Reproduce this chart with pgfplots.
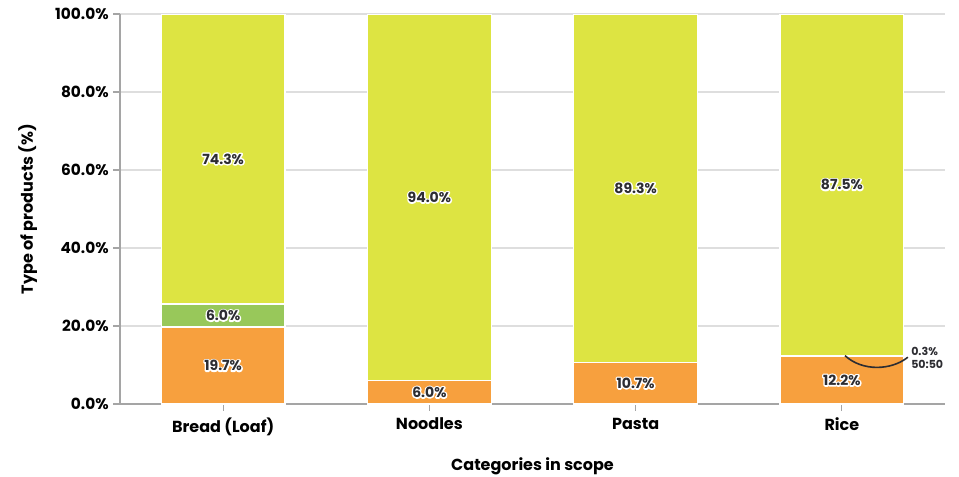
\documentclass[border=0pt]{standalone}
\usepackage{pgfplots}
\pgfplotsset{compat=1.18}
\usepackage{pgfplotstable}
\usepackage{fontspec}
\setmainfont{Poppins}

\definecolor{cOrange}{RGB}{247,160,62}
\definecolor{cGreen}{RGB}{152,200,90}
\definecolor{cYellow}{RGB}{221,228,66}
\definecolor{cText}{RGB}{45,45,50}
\definecolor{cGrid}{RGB}{222,222,222}
\definecolor{cAxis}{RGB}{165,165,165}

% white outline behind a value label: a stroked copy, then the filled text
\newcommand\halo[1]{\leavevmode\rlap{\special{pdf:code q 1 Tr 2.2 w 1 J 1 j 1 1 1 RG}#1\special{pdf:code Q}}#1}

% Shares of product types per category (%)
\pgfplotstableread{
x  low   mid  high
0  19.7  6.0  74.3
1  6.0   0.0  94.0
2  10.7  0.0  89.3
3  12.2  0.3  87.5
}\shares

% Value labels placed at the middle of each segment
\pgfplotstableread{
x  y      label
0  9.85   19.7\%
0  22.7   6.0\%
0  62.85  74.3\%
1  3.0    6.0\%
1  53.0   94.0\%
2  5.35   10.7\%
2  55.35  89.3\%
3  6.1    12.2\%
3  56.25  87.5\%
}\labels

\pgfplotsset{
  base/.style={
    at={(90pt,54pt)}, anchor=south west,
    scale only axis, width=618.75pt, height=292.5pt,
    xmin=-0.5, xmax=3.5, ymin=0, ymax=100,
  },
}

\begin{document}
\begin{tikzpicture}
\path[use as bounding box] (0,0) rectangle (719.25pt,357pt);
\begin{axis}[
  base,
  ybar stacked, bar width=0.6,
  axis x line*=bottom, axis y line*=left,
  axis line style={cAxis, line width=0.9pt},
  ymajorgrids, grid style={cGrid, line width=0.8pt},
  ytick={0,20,...,100},
  xtick={0,1,2,3},
  xticklabels={Bread (Loaf),Noodles,Pasta,Rice},
  tick style={cAxis, line width=0.9pt},
  major tick length=5pt,
  tick align=outside,
  /pgf/number format/assume math mode=true,
  yticklabel={\pgfmathprintnumber[fixed,fixed zerofill,precision=1]{\tick}\%},
  yticklabel style={font=\fontsize{11.5}{13}\selectfont\bfseries, text=black},
  xticklabel style={font=\fontsize{12}{14}\selectfont\bfseries, text=black, yshift=-2pt},
  xlabel={Categories in scope},
  ylabel={Type of products (\%)},
  label style={font=\fontsize{12}{14}\selectfont\bfseries, text=black},
  xlabel style={at={(axis description cs:0.5,-0.159)}, anchor=center},
  ylabel style={at={(axis description cs:-0.112,0.5)}, anchor=center},
]
\addplot[fill=cOrange, draw=white, line width=1.1pt] table[x=x, y=low] {\shares};
\addplot[fill=cGreen, draw=white, line width=1.1pt] table[x=x, y=mid] {\shares};
\addplot[fill=cYellow, draw=white, line width=1.1pt] table[x=x, y=high] {\shares};
\end{axis}
\begin{axis}[
  base, hide axis, clip=false,
]
\addplot[only marks, mark=none,
  nodes near coords, point meta=explicit symbolic,
  every node near coord/.style={anchor=center, inner sep=0pt,
    font=\fontsize{10.5}{12}\selectfont\bfseries, text=cText},
  nodes near coords={\halo{\pgfplotspointmeta}},
] table[x=x, y=y, meta=label] {\labels};
% callout for the thin 50:50 segment of Rice
\draw[cText, line width=1.2pt] (axis cs:3.015,12.4) .. controls (axis cs:3.1,8.3) and (axis cs:3.24,8.6) .. (axis cs:3.32,12.0);
\node[anchor=west, align=left, text=cText, font=\fontsize{8.3}{10}\selectfont\bfseries, inner sep=0pt]
  at (axis cs:3.335,11.9) {0.3\%\\50:50};
\end{axis}
\end{tikzpicture}
\end{document}
